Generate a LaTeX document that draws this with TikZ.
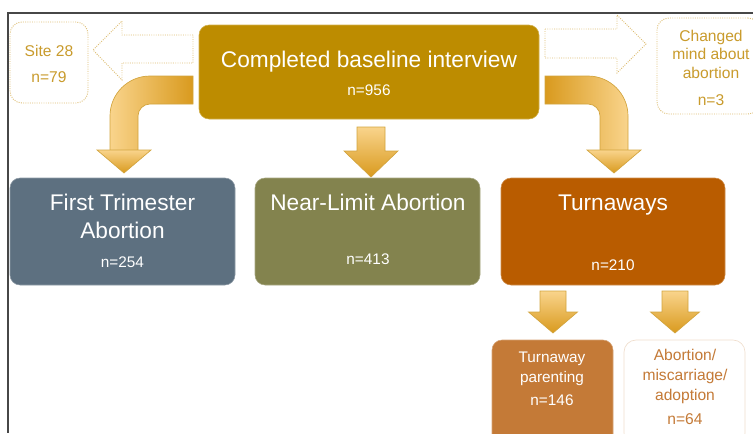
\documentclass[tikz,border=0pt]{standalone}
\usepackage{fontspec}
\setmainfont{Liberation Sans}
\usepackage{tikz}
\usetikzlibrary{positioning}
\definecolor{goldbox}{HTML}{BD8C00}
\definecolor{slatebox}{HTML}{5D7080}
\definecolor{olivebox}{HTML}{83834E}
\definecolor{rustbox}{HTML}{B95C00}
\definecolor{copperbox}{HTML}{C47A37}
\definecolor{goldtext}{HTML}{C99B2C}
\definecolor{dotline}{HTML}{DDBD72}
\definecolor{arrowlight}{HTML}{F9D48C}
\definecolor{arrowdark}{HTML}{D99A1E}
\definecolor{arrowedge}{HTML}{D2A43E}
\definecolor{framegray}{HTML}{474747}
\tikzset{bigbox/.style={rectangle, rounded corners=7.5pt, minimum width=168.75pt, minimum height=80.25pt, inner sep=0pt, draw=#1!70!white, line width=0.4pt, fill=#1}}
\tikzset{sidebox/.style={rectangle, rounded corners=9pt, densely dotted, draw=dotline, line width=0.7pt, fill=white, inner sep=0pt}}
\tikzset{bigtxt/.style={anchor=base, text=white, font=\fontsize{17}{20}\selectfont, inner sep=0pt}}
\tikzset{ntxt/.style={anchor=base, text=white, font=\fontsize{11.5}{14}\selectfont, inner sep=0pt}}
\tikzset{sidetxt/.style={anchor=base, text=goldtext, font=\fontsize{11.7}{14}\selectfont, inner sep=0pt}}
\tikzset{hollowarrow/.style={densely dotted, draw=dotline, fill=white, line width=0.7pt}}
\tikzset{fillarrow/.style={draw=arrowedge, line width=0.5pt, top color=arrowlight, bottom color=arrowdark}}
\tikzset{bendarrow/.style={draw=arrowedge, line width=0.5pt}}

\begin{document}
\begin{tikzpicture}[x=0.75pt, y=-0.75pt]
    \clip (0,0) rectangle (753,433);
    \draw[framegray, line width=0.9pt] (753,13) -- (8,13) -- (8,433);

    % hollow side arrows
    \draw[hollowarrow] (193,35) -- (122,35) -- (122,21) -- (93,50) -- (122,80) -- (122,63) -- (193,63) -- cycle;
    \draw[hollowarrow] (545,29) -- (617,29) -- (617,15) -- (646,44) -- (617,73) -- (617,58) -- (545,58) -- cycle;

    % bent arrows
    \draw[bendarrow, left color=arrowlight, right color=arrowdark] (193,76) -- (150,76) .. controls (127.9,76) and (110,93.9) .. (110,116) -- (110,151) -- (138,151) -- (138,116) .. controls (138,109.4) and (143.4,104) .. (150,104) -- (193,104) -- cycle;
    \draw[fillarrow] (97,150) -- (124,173) -- (151,150) -- cycle;
    \draw[bendarrow, left color=arrowdark, right color=arrowlight] (545,76) -- (588,76) .. controls (610.1,76) and (628,93.9) .. (628,116) -- (628,151) -- (600,151) -- (600,116) .. controls (600,109.4) and (594.6,104) .. (588,104) -- (545,104) -- cycle;
    \draw[fillarrow] (587,150) -- (614,173) -- (641,150) -- cycle;

    % straight arrows
    \draw[fillarrow] (357,127) -- (385,127) -- (385,151) -- (398,151) -- (371,177) -- (344,151) -- (357,151) -- cycle;
    \foreach \cx in {553,675}
        \draw[fillarrow] (\cx-13,291) -- (\cx+13,291) -- (\cx+13,312) -- (\cx+24.5,312) -- (\cx,333) -- (\cx-24.5,312) -- (\cx-13,312) -- cycle;

    % boxes
    \node[sidebox, minimum width=58.5pt, minimum height=60.75pt](site) at (49,62.5){};
    \node[sidebox, minimum width=77.25pt, minimum height=72pt](changed) at (708.5,66){};
    \node[bigbox=goldbox, minimum width=255pt, minimum height=70.5pt](main) at (369,72){};
    \node[bigbox=slatebox](first) at (122.5,231.5){};
    \node[bigbox=olivebox](nearlimit) at (367.5,231.5){};
    \node[bigbox=rustbox, minimum width=168pt](turnaway) at (613,231.5){};
    \node[bigbox=copperbox, minimum width=90.75pt, minimum height=78.75pt](parenting) at (552.5,392.5){};
    \node[sidebox, solid, draw=copperbox!25, line width=0.5pt, minimum width=90.75pt, minimum height=78.75pt](other) at (684.5,392.5){};

    % texts
    \node[bigtxt](main-t) at (369,67){Completed baseline interview};
    \node[ntxt](main-n) at (369,95){n=956};
    \node[sidetxt](site-t) at (49,56){Site 28};
    \node[sidetxt](site-n) at (49,82){n=79};
    \node[sidetxt](changed-a) at (711,41){Changed};
    \node[sidetxt](changed-b) at (711,59.5){mind about};
    \node[sidetxt](changed-c) at (711,78){abortion};
    \node[sidetxt](changed-n) at (711,105){n=3};
    \node[bigtxt](first-a) at (122.5,210.5){First Trimester};
    \node[bigtxt](first-b) at (122.5,238.3){Abortion};
    \node[ntxt](first-n) at (122.5,267){n=254};
    \node[bigtxt](nearlimit-t) at (368,210.5){Near-Limit Abortion};
    \node[ntxt](nearlimit-n) at (368,264){n=413};
    \node[bigtxt](turnaway-t) at (613,210.5){Turnaways};
    \node[ntxt](turnaway-n) at (613,270.5){n=210};
    \node[ntxt](parenting-a) at (552,362.7){Turnaway};
    \node[ntxt](parenting-b) at (552,382.7){parenting};
    \node[ntxt](parenting-n) at (552,405){n=146};
    \node[sidetxt, text=copperbox](other-a) at (685,360){Abortion/};
    \node[sidetxt, text=copperbox](other-b) at (685,380.7){miscarriage/};
    \node[sidetxt, text=copperbox](other-c) at (685,400.7){adoption};
    \node[sidetxt, text=copperbox](other-n) at (685,424.3){n=64};
\end{tikzpicture}
\end{document}
